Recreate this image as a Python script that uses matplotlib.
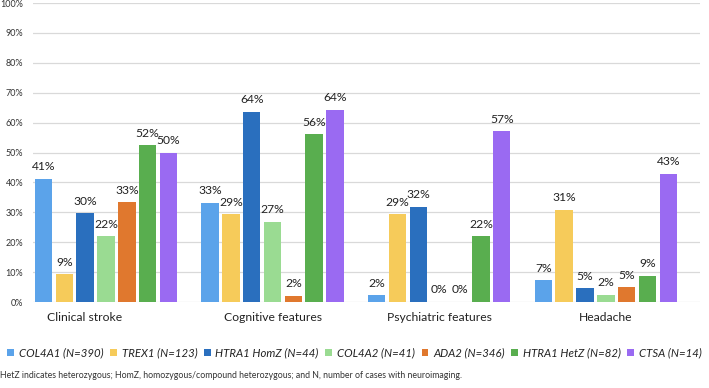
import numpy as np
import matplotlib.pyplot as plt

plt.rcParams['font.family'] = ['Lato', 'DejaVu Sans']

# 数据
categories = ['Clinical stroke', 'Cognitive features', 'Psychiatric features', 'Headache']
series = ['COL4A1 (N=390)', 'TREX1 (N=123)', 'HTRA1 HomZ (N=44)', 'COL4A2 (N=41)',
          'ADA2 (N=346)', 'HTRA1 HetZ (N=82)', 'CTSA (N=14)']
col4a1 = [41.2, 33.2, 2.3, 7.3]
trex1 = [9.3, 29.3, 29.3, 30.9]
htra1_homz = [29.7, 63.6, 31.8, 4.6]
col4a2 = [22.0, 26.8, 0.0, 2.4]
ada2 = [33.3, 2.0, 0.0, 4.9]
htra1_hetz = [52.4, 56.1, 22.0, 8.7]
ctsa = [50.0, 64.3, 57.1, 42.9]
values = [col4a1, trex1, htra1_homz, col4a2, ada2, htra1_hetz, ctsa]
colors = ['#5BA3EA', '#F6CB5A', '#2A6FBE', '#9ADB92', '#E0782E', '#59AE4F', '#9A6AF2']

fig = plt.figure(figsize=(7.09, 3.88), dpi=100)
ax = fig.add_axes([0.0465, 0.2216, 0.9405, 0.7706])

x = np.arange(len(categories))
step = 0.125
width = 0.105
for i, (vals, c, name) in enumerate(zip(values, colors, series)):
    pos = x + (i - 3) * step
    ax.bar(pos, vals, width, color=c, label=name, zorder=3)
    for p, v in zip(pos, vals):
        ax.text(p, v + 2.2, f'{round(v)}%', ha='center', va='bottom', fontsize=8.7, color='#222222')

ax.set_xlim(-0.438, 3.564)
ax.set_ylim(0, 100)
ax.set_yticks(range(0, 101, 10))
ax.set_yticklabels([f'{t}%' for t in range(0, 101, 10)], fontsize=6.5, color='#333333')
ax.set_xticks(x)
ax.set_xticklabels([])
# 类别标签（第一个在原图中略偏左）
label_shift = [-0.13, 0, 0, 0]
for xi, name, d in zip(x, categories, label_shift):
    ax.text(xi + d, -5.3, name, ha='center', va='center', fontsize=8.7, color='#222222')
ax.tick_params(length=0)
ax.tick_params(axis='y', pad=7)
ax.grid(axis='y', color='#D9D9D9', linewidth=0.9, zorder=0)
for s in ax.spines.values():
    s.set_visible(False)

leg = fig.legend(loc='center', bbox_to_anchor=(0.5, 0.09), ncol=7, frameon=False,
                 handlelength=0.6, handleheight=0.6, handletextpad=0.4,
                 columnspacing=0.6, prop={'style': 'italic', 'size': 8.2})
for t in leg.get_texts():
    t.set_color('#222222')

fig.text(0.0, 0.025, 'HetZ indicates heterozygous; HomZ, homozygous/compound heterozygous; '
         'and N, number of cases with neuroimaging.', fontsize=6.3, color='#333333', ha='left')

fig.savefig('out.png', dpi=100)
